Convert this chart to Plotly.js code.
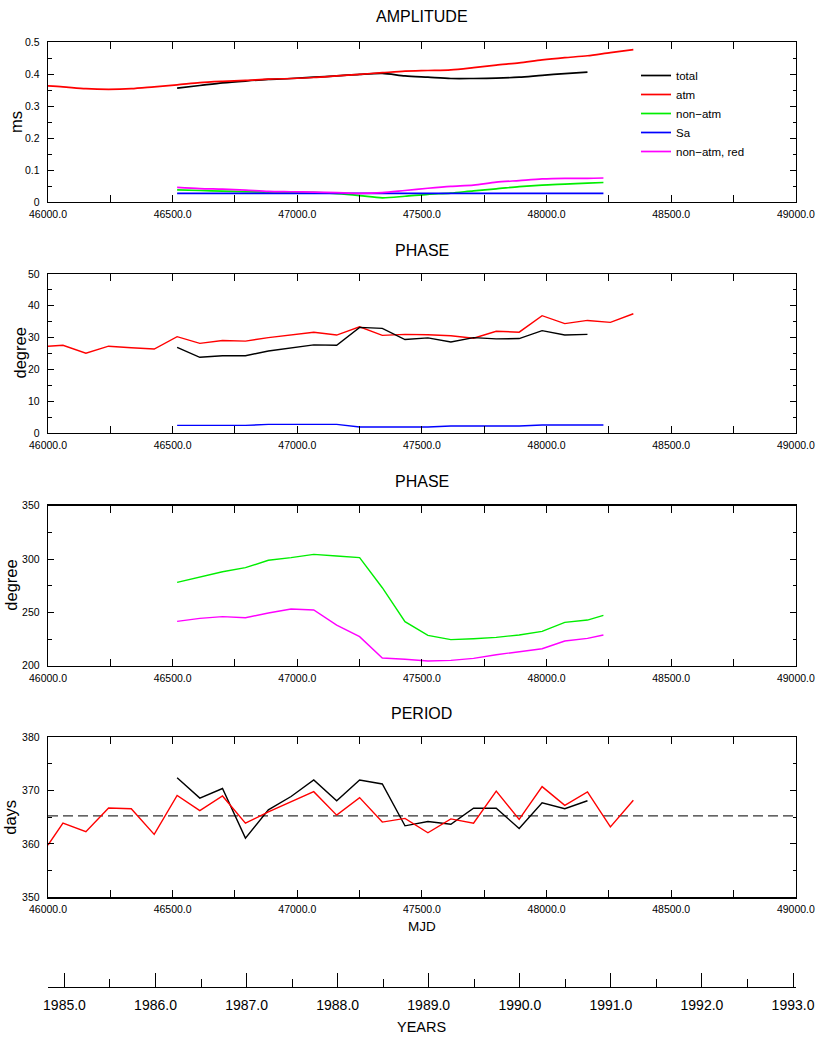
<!DOCTYPE html>
<html>
<head>
<meta charset="utf-8">
<script src="https://cdn.plot.ly/plotly-3.0.1.min.js"></script>
<style>html,body{margin:0;padding:0;background:#fff;}#chart{width:818px;height:1039px;}</style>
</head>
<body>
<div id="chart"></div>
<script>
// ---- data (MJD epochs) ----
const mjdAtm = [46000, 46060, 46152, 46243, 46334, 46426, 46518, 46609, 46700, 46792, 46884, 46975, 47066, 47158, 47250, 47341, 47432, 47524, 47616, 47707, 47798, 47890, 47982, 48073, 48164, 48256, 48348];
const mjdTotal = [46518, 46609, 46700, 46792, 46884, 46975, 47066, 47158, 47250, 47341, 47432, 47524, 47616, 47707, 47798, 47890, 47982, 48073, 48164];
const mjdNonAtm = [46518, 46609, 46700, 46792, 46884, 46975, 47066, 47158, 47250, 47341, 47432, 47524, 47616, 47707, 47798, 47890, 47982, 48073, 48164, 48228];

// AMPLITUDE (ms)
const ampTotal = [0.356, 0.364, 0.372, 0.378, 0.383, 0.386, 0.390, 0.394, 0.399, 0.402, 0.394, 0.390, 0.386, 0.386, 0.387, 0.390, 0.396, 0.401, 0.406];
const ampAtm = [0.363, 0.360, 0.354, 0.352, 0.354, 0.360, 0.366, 0.373, 0.377, 0.380, 0.384, 0.386, 0.389, 0.394, 0.399, 0.404, 0.409, 0.411, 0.413, 0.420, 0.428, 0.435, 0.444, 0.451, 0.457, 0.467, 0.476];
const ampNonAtm = [0.038, 0.036, 0.034, 0.032, 0.031, 0.030, 0.030, 0.026, 0.020, 0.013, 0.018, 0.024, 0.028, 0.035, 0.041, 0.048, 0.053, 0.056, 0.059, 0.061];
const ampSa = [0.027, 0.027, 0.027, 0.027, 0.027, 0.027, 0.027, 0.027, 0.027, 0.027, 0.027, 0.027, 0.027, 0.027, 0.027, 0.027, 0.027, 0.027, 0.027, 0.027];
const ampNonAtmRed = [0.046, 0.042, 0.040, 0.037, 0.033, 0.032, 0.031, 0.029, 0.027, 0.029, 0.036, 0.043, 0.049, 0.053, 0.062, 0.067, 0.072, 0.074, 0.074, 0.075];

// PHASE (degree) panel 2
const phTotal = [26.9, 23.8, 24.3, 24.3, 25.8, 26.7, 27.7, 27.6, 33.2, 32.9, 29.4, 29.9, 28.6, 30.0, 29.6, 29.7, 32.2, 30.8, 31.0];
const phAtm = [27.3, 27.6, 25.1, 27.3, 26.8, 26.4, 30.3, 28.2, 29.1, 28.9, 30.0, 30.8, 31.7, 30.8, 33.4, 30.7, 31.0, 30.9, 30.6, 29.8, 32.0, 31.7, 36.9, 34.4, 35.4, 34.8, 37.5];
const phSa = [2.4, 2.4, 2.4, 2.4, 2.7, 2.7, 2.7, 2.7, 1.9, 1.9, 1.9, 1.9, 2.2, 2.2, 2.2, 2.2, 2.5, 2.5, 2.5, 2.5];

// PHASE (degree) panel 3
const phNonAtm = [278.1, 283.4, 288.1, 291.9, 298.8, 301.3, 304.4, 302.8, 301.3, 273.1, 241.3, 228.4, 224.4, 225.3, 226.6, 228.8, 232.2, 240.6, 242.8, 247.2];
const phNonAtmRed = [241.6, 244.4, 246.0, 245.0, 249.4, 253.1, 252.2, 238.1, 227.2, 207.2, 206.0, 204.4, 205.0, 206.9, 210.3, 213.1, 215.9, 223.1, 225.6, 228.8];

// PERIOD (days)
const perTotal = [372.4, 368.6, 370.4, 361.1, 366.4, 368.9, 372.0, 368.1, 372.0, 371.25, 363.4, 364.2, 363.7, 366.7, 366.7, 362.9, 367.7, 366.6, 368.1];
const perAtm = [359.8, 363.9, 362.3, 366.75, 366.6, 361.8, 369.1, 366.25, 369.0, 363.9, 366.0, 367.9, 369.8, 365.4, 368.7, 364.1, 364.8, 362.1, 364.7, 363.9, 369.9, 364.6, 370.75, 367.25, 369.75, 363.2, 368.2];
const refPeriodX = [46000, 49000];
const refPeriodY = [365.25, 365.25];

const legendNames = ["total", "atm", "non\u2212atm", "Sa", "non\u2212atm, red"];
const panelTitles = ["AMPLITUDE", "PHASE", "PHASE", "PERIOD"];
const yTitles = ["ms", "degree", "degree", "days"];

// ---- styling ----
const FN = "Liberation Sans, Arial, sans-serif";
const C = {total: "#000000", atm: "#ff0000", nonatm: "#00ee00", sa: "#0000ff", red: "#ff00ff"};
const LW = 1.4;

function tr(x, y, color, xa, ya, name, show, shape) {
  return {x: x, y: y, xaxis: xa, yaxis: ya, type: "scatter", mode: "lines",
    name: name, showlegend: !!show, hoverinfo: "skip",
    line: {color: color, width: shape ? 1.7 : LW, shape: shape || "linear", smoothing: 0.8}};
}

const data = [
  tr(mjdTotal, ampTotal, C.total, "x", "y", legendNames[0], true, "spline"),
  tr(mjdAtm, ampAtm, C.atm, "x", "y", legendNames[1], true, "spline"),
  tr(mjdNonAtm, ampNonAtm, C.nonatm, "x", "y", legendNames[2], true, "spline"),
  tr(mjdNonAtm, ampSa, C.sa, "x", "y", legendNames[3], true, "spline"),
  tr(mjdNonAtm, ampNonAtmRed, C.red, "x", "y", legendNames[4], true, "spline"),

  tr(mjdAtm, phAtm, C.atm, "x2", "y2"),
  tr(mjdTotal, phTotal, C.total, "x2", "y2"),
  tr(mjdNonAtm, phSa, C.sa, "x2", "y2"),

  tr(mjdNonAtm, phNonAtm, C.nonatm, "x3", "y3"),
  tr(mjdNonAtm, phNonAtmRed, C.red, "x3", "y3"),

  {x: refPeriodX, y: refPeriodY, xaxis: "x4", yaxis: "y4", type: "scatter", mode: "lines",
   showlegend: false, hoverinfo: "skip", line: {color: "#333333", width: 1.3, dash: "10px,5px"}},
  tr(mjdTotal, perTotal, C.total, "x4", "y4"),
  tr(mjdAtm, perAtm, C.atm, "x4", "y4"),

  {x: [1985], y: [0], xaxis: "x5", yaxis: "y5", type: "scatter", mode: "lines",
   showlegend: false, hoverinfo: "skip", line: {width: 0}}
];

// plot area: 48..796 px horizontally, 42..987 px vertically
const TOP = 42, BOT = 987, H = BOT - TOP, LEFT = 48, W = 748;
function dom(y0px, y1px) { return [(BOT - y1px) / H, (BOT - y0px) / H]; }
function py(px) { return (BOT - px) / H; }
function px(p) { return (p - LEFT) / W; }

const panels = [[42, 202], [274, 433], [505.7, 665.7], [737.3, 897.3]];
const yRanges = [[0, 0.5], [0, 50], [200, 350], [350, 380]];
const yDticks = [0.1, 10, 50, 10];
const yMinor = [0.05, 5, 25, 5];

const layout = {
  width: 818, height: 1039,
  margin: {l: LEFT, r: 818 - LEFT - W, t: TOP, b: 1039 - BOT, pad: 0},
  paper_bgcolor: "#ffffff", plot_bgcolor: "#ffffff",
  font: {family: FN, color: "#000000", size: 11},
  showlegend: true,
  legend: {x: px(636), y: py(61), xanchor: "left", yanchor: "top",
    bgcolor: "rgba(0,0,0,0)", borderwidth: 0, tracegroupgap: 0,
    font: {family: FN, size: 11.5, color: "#000"}, itemwidth: 30},
  annotations: [],
  hovermode: false
};

for (let i = 0; i < 4; i++) {
  const n = i === 0 ? "" : String(i + 1);
  const yd = dom(panels[i][0], panels[i][1]);
  layout["xaxis" + n] = {
    domain: [0, 1], anchor: "y" + n, range: [46000, 49000.5],
    dtick: 500, tick0: 46000, tickformat: ".1f",
    ticks: "inside", ticklen: 7, tickwidth: 1, tickcolor: "#000",
    minor: {dtick: 250, ticks: "inside", ticklen: 7, tickwidth: 1, tickcolor: "#000"},
    showline: true, linecolor: "#000", linewidth: 1.3, mirror: "ticks",
    showgrid: false, zeroline: false, ticklabelstandoff: 2,
    tickfont: {family: FN, size: 10.5, color: "#000"}, fixedrange: true
  };
  layout["yaxis" + n] = {
    domain: yd, anchor: "x" + n, range: yRanges[i],
    dtick: yDticks[i], tick0: yRanges[i][0],
    ticks: "inside", ticklen: 6, tickwidth: 1, tickcolor: "#000",
    minor: {dtick: yMinor[i], ticks: "inside", ticklen: 3.5, tickwidth: 1, tickcolor: "#000"},
    showline: true, linecolor: "#000", linewidth: 1.3, mirror: "ticks",
    showgrid: false, zeroline: false, ticklabelstandoff: 5,
    tickfont: {family: FN, size: 10.5, color: "#000"}, fixedrange: true
  };
}

// YEARS axis
const yrStart = 1985 + (46000 - 46066) / 365.25;
const yrEnd = 1985 + (49000 - 46066) / 365.25;
layout.yaxis5 = {domain: [0, 0.002], anchor: "x5", visible: false, range: [0, 1], fixedrange: true};
layout.xaxis5 = {
  domain: [0, 1], anchor: "y5", range: [yrStart, yrEnd],
  dtick: 1, tick0: 1985, tickformat: ".1f",
  ticks: "inside", ticklen: 14, tickwidth: 1, tickcolor: "#000",
  minor: {dtick: 0.5, tick0: 1985, ticks: "inside", ticklen: 8, tickwidth: 1, tickcolor: "#000"},
  showline: true, linecolor: "#000", linewidth: 1.2,
  showgrid: false, zeroline: false, ticklabelstandoff: 5,
  tickfont: {family: FN, size: 14, color: "#000"}, fixedrange: true
};

// titles
const titleY = [17, 250, 481, 713];
panelTitles.forEach((t, i) => layout.annotations.push({
  text: t, xref: "paper", yref: "paper", x: px(421.5), y: py(titleY[i]),
  xanchor: "center", yanchor: "middle", showarrow: false,
  font: {family: FN, size: 16, color: "#000"}
}));
const yTitleX = [16, 19, 11, 10.5];
yTitles.forEach((t, i) => layout.annotations.push({
  text: t, xref: "paper", yref: "paper", x: px(yTitleX[i]),
  y: py((panels[i][0] + panels[i][1]) / 2),
  xanchor: "center", yanchor: "middle", textangle: -90, showarrow: false,
  font: {family: FN, size: 16.5, color: "#000"}
}));
layout.annotations.push({text: "MJD", xref: "paper", yref: "paper", x: px(421.5), y: py(926),
  xanchor: "center", yanchor: "middle", showarrow: false, font: {family: FN, size: 13.5, color: "#000"}});
layout.annotations.push({text: "YEARS", xref: "paper", yref: "paper", x: px(421.5), y: py(1027),
  xanchor: "center", yanchor: "middle", showarrow: false, font: {family: FN, size: 14.5, color: "#000"}});

Plotly.newPlot("chart", data, layout, {displayModeBar: false, staticPlot: true});
</script>
</body>
</html>
